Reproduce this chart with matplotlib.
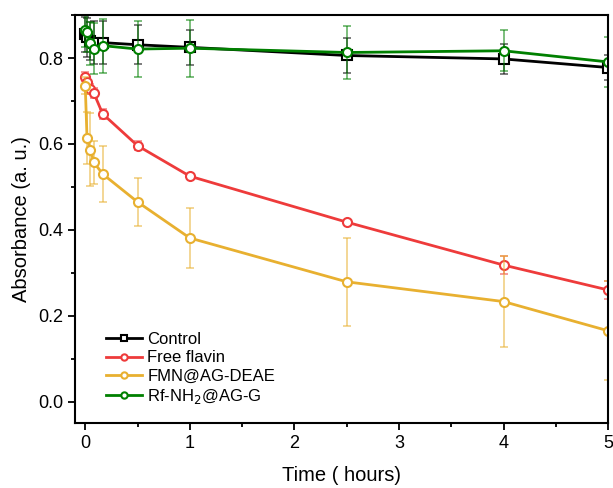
import matplotlib
matplotlib.use("Agg")
import matplotlib.pyplot as plt
from matplotlib.ticker import MultipleLocator

plt.rcParams['font.family'] = ['Liberation Sans', 'DejaVu Sans']

time = [0, 0.017, 0.05, 0.083, 0.167, 0.5, 1, 2.5, 4, 5]

control = [0.855, 0.848, 0.840, 0.836, 0.836, 0.831, 0.825, 0.806, 0.798, 0.778]
control_err = [0.04, 0.045, 0.045, 0.05, 0.05, 0.045, 0.04, 0.04, 0.035, 0.03]

free_flavin = [0.757, 0.745, 0.728, 0.718, 0.670, 0.596, 0.525, 0.418, 0.318, 0.260]
free_flavin_err = [0.01, 0.012, 0.012, 0.012, 0.012, 0.01, 0.005, 0.005, 0.02, 0.02]

fmn = [0.736, 0.614, 0.586, 0.557, 0.530, 0.465, 0.381, 0.279, 0.233, 0.165]
fmn_err = [0.02, 0.06, 0.085, 0.05, 0.065, 0.055, 0.07, 0.102, 0.105, 0.115]

rf = [0.866, 0.860, 0.835, 0.822, 0.829, 0.821, 0.823, 0.813, 0.817, 0.791]
rf_err = [0.04, 0.045, 0.05, 0.06, 0.063, 0.066, 0.066, 0.062, 0.048, 0.058]

labels = ['Control', 'Free flavin', 'FMN@AG-DEAE', 'Rf-NH$_2$@AG-G']
colors = ['#000000', '#EE3B3B', '#E8B030', '#008000']
markers = ['s', 'o', 'o', 'o']
series = [(control, control_err), (free_flavin, free_flavin_err), (fmn, fmn_err), (rf, rf_err)]

fig = plt.figure(figsize=(6.13, 4.88), dpi=100)
ax = fig.add_axes([0.122, 0.133, 0.870, 0.836])

for (vals, errs), lab, c, m in zip(series, labels, colors, markers):
    ax.errorbar(time, vals, yerr=errs, fmt='none', ecolor=c, alpha=0.6,
                elinewidth=1.2, capsize=3, capthick=1.2)
    ax.plot(time, vals, color=c, lw=2, marker=m, markersize=6.5,
            markerfacecolor='white', markeredgecolor=c, markeredgewidth=1.5,
            label=lab)

ax.set_xlim(-0.1, 5)
ax.set_ylim(-0.05, 0.9)
ax.xaxis.set_major_locator(MultipleLocator(1))
ax.xaxis.set_minor_locator(MultipleLocator(0.5))
ax.yaxis.set_major_locator(MultipleLocator(0.2))
ax.yaxis.set_minor_locator(MultipleLocator(0.1))
ax.tick_params(which='both', direction='out', labelsize=13, width=1.3)
ax.tick_params(which='major', length=5)
ax.tick_params(which='minor', length=3)
ax.set_yticks([0.0, 0.2, 0.4, 0.6, 0.8])
ax.set_yticklabels(['0.0', '0.2', '0.4', '0.6', '0.8'])
for s in ax.spines.values():
    s.set_linewidth(1.5)

ax.set_xlabel('Time ( hours)', fontsize=14.5, labelpad=10)
ax.set_ylabel('Absorbance (a. u.)', fontsize=14.5, labelpad=5)

leg = ax.legend(loc='lower left', bbox_to_anchor=(0.03, 0.005), frameon=False,
                fontsize=12, handlelength=2.2, labelspacing=0.2,
                handletextpad=0.3, markerscale=0.7)

fig.savefig('out.png', dpi=100)
